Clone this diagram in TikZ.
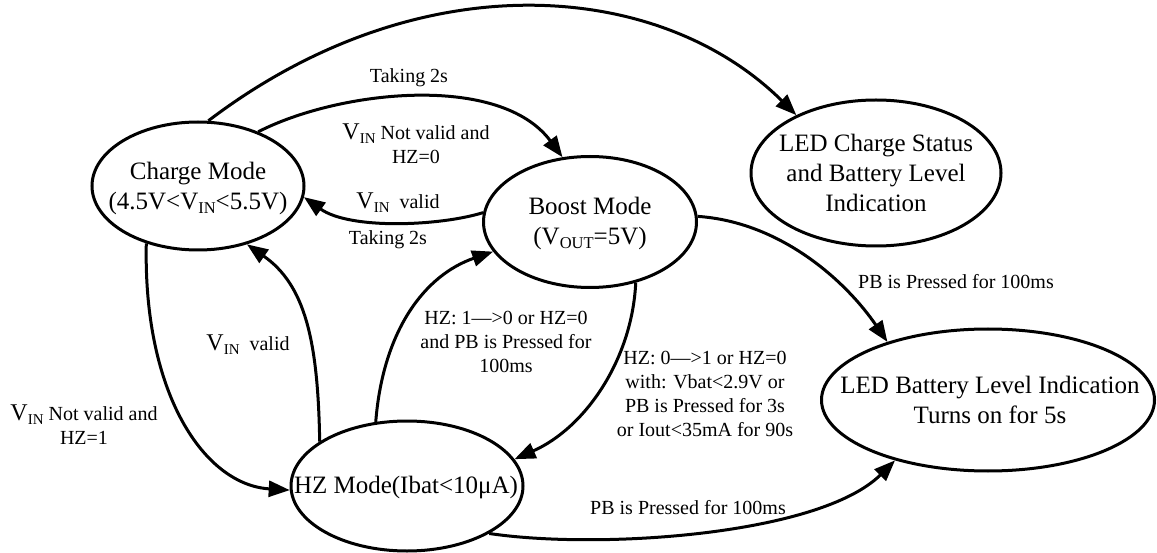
\documentclass[tikz,border=0pt]{standalone}
\usepackage{fontspec}
\setmainfont{Liberation Serif}
\usetikzlibrary{shapes.geometric,arrows.meta}
\newcommand{\bigV}{{\fontsize{24}{24}\selectfont V}}
\newcommand{\vsub}[1]{\raisebox{-4pt}{\fontsize{15}{15}\selectfont #1}}
\newcommand{\nsub}[1]{\raisebox{-4pt}{\fontsize{16.5}{16.5}\selectfont #1}}
\begin{document}
\begin{tikzpicture}[x=1pt,y=-1pt,
  state/.style={draw, line width=3pt, ellipse, inner sep=0pt},
  stxt/.style={align=center, font=\rmfamily\fontsize{25}{30}\selectfont, inner sep=0pt},
  lbl/.style={align=center, font=\rmfamily\fontsize{20}{24}\selectfont, inner sep=0pt},
  conn/.style={line width=3pt, -{Triangle[length=21pt,width=16pt]}}]
\useasboundingbox (0,0) rectangle (1157,553);
\fill[white] (0,0) rectangle (1157,553);

% states
\node[state, minimum width=212pt, minimum height=128pt] (charge) at (198,186) {};
\node[state, minimum width=213pt, minimum height=131pt] (boost) at (590,222) {};
\node[state, minimum width=250pt, minimum height=146pt] (ledc) at (876,173) {};
\node[state, minimum width=333pt, minimum height=142pt] (ledb) at (988,400) {};
\node[state, minimum width=232pt, minimum height=130pt] (hz) at (407,486) {};

\node[stxt] (chargetxt) at (198,188) {Charge Mode\\(4.5V<V\nsub{IN}<5.5V)};
\node[stxt] (boosttxt) at (590,223) {Boost Mode\\(V\nsub{OUT}=5V)};
\node[stxt] (ledctxt) at (876,173) {LED Charge Status\\and Battery Level\\Indication};
\node[stxt] (ledbtxt) at (990,400) {LED Battery Level Indication\\Turns on for 5s};
\node[stxt] (hztxt) at (406,487) {HZ Mode(Ibat<10μA)};

% connectors
\draw[conn] (charge.81) .. controls (420,-40) and (660,-20) .. (ledc.144);
\draw[conn] (charge.42) .. controls (340,90) and (500,73) .. (boost.113);
\draw[conn] (boost.175) .. controls (440,226) and (350,230) .. (charge.354);
\draw[conn] (boost.3) .. controls (780,222) and (845,280) .. (ledb.150);
\draw[conn] (hz.116) .. controls (383,330) and (425,275) .. (boost.197);
\draw[conn] (boost.307) .. controls (632,360) and (585,428) .. (hz.14);
\draw[conn] (charge.228) .. controls (143,395) and (205,485) .. (hz.182);
\draw[conn] (hz.153) .. controls (318,340) and (305,285) .. (charge.310);
\draw[conn] (hz.330) .. controls (600,550) and (820,535) .. (ledb.213);

% labels
\node[lbl] (l1) at (409,78) {Taking 2s};
\node[lbl] (l2) at (416,144) {\bigV\vsub{IN} Not valid and\\HZ=0};
\node[lbl] (l3) at (398,203) {\bigV\vsub{IN}\ \ valid};
\node[lbl] (l4) at (388,240) {Taking 2s};
\node[lbl] (l5) at (248,345) {\bigV\vsub{IN}\ \ valid};
\node[lbl] (l6) at (84,425) {\bigV\vsub{IN} Not valid and\\HZ=1};
\node[lbl] (l7) at (506,342) {HZ: 1—>0 or HZ=0\\and PB is Pressed for\\100ms};
\node[lbl] (l8) at (705,394) {HZ: 0—>1 or HZ=0\\with: Vbat<2.9V or\\PB is Pressed for 3s\\or Iout<35mA for 90s};
\node[lbl] (l9) at (956,282) {PB is Pressed for 100ms};
\node[lbl] (l10) at (688,508) {PB is Pressed for 100ms};
\end{tikzpicture}
\end{document}
